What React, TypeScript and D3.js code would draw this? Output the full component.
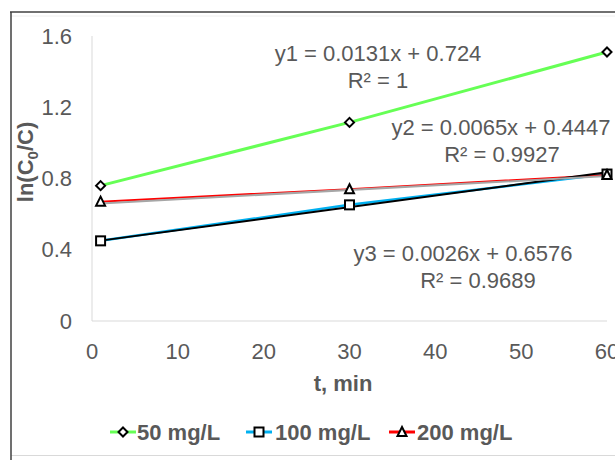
import React from "react";
import * as d3 from "d3";

const times = [1, 30, 60];
const series50 = [0.76, 1.115, 1.51];
const series100 = [0.45, 0.652, 0.825];
const series200 = [0.67, 0.74, 0.82];
const seriesNames = ["50 mg/L", "100 mg/L", "200 mg/L"];
const xTicks = [0, 10, 20, 30, 40, 50, 60];
const yTicks = [0, 0.4, 0.8, 1.2, 1.6];
// trendline coefficients (slope, intercept) for 100 and 200 mg/L
const trend100 = [0.0065, 0.4447];
const trend200 = [0.0026, 0.6576];
const eq1 = ["y1 = 0.0131x + 0.724", "R² = 1"];
const eq2 = ["y2 = 0.0065x + 0.4447", "R² = 0.9927"];
const eq3 = ["y3 = 0.0026x + 0.6576", "R² = 0.9689"];

const W = 615;
const H = 460;
const FONT = "'Liberation Sans', Arial, sans-serif";
const TXT = "#595959";

export default function App() {
  const x = d3.scaleLinear().domain([0, 60]).range([92, 607]);
  const y = d3.scaleLinear().domain([0, 1.6]).range([321, 36]);
  const line = d3
    .line<[number, number]>()
    .x((d) => x(d[0]))
    .y((d) => y(d[1]));
  const pts = (vals: number[]) => times.map((t, i) => [t, vals[i]] as [number, number]);
  const trendPts = (c: number[]) =>
    [times[0], times[times.length - 1]].map((t) => [t, c[0] * t + c[1]] as [number, number]);

  const diamond = (cx: number, cy: number, key: string) => (
    <path
      key={key}
      d={`M${cx},${cy - 4.5}L${cx + 4.5},${cy}L${cx},${cy + 4.5}L${cx - 4.5},${cy}Z`}
      fill="#fff"
      stroke="#000"
      strokeWidth={2}
    />
  );
  const square = (cx: number, cy: number, key: string) => (
    <rect key={key} x={cx - 4.5} y={cy - 4.5} width={9} height={9} fill="#fff" stroke="#000" strokeWidth={2} />
  );
  const triangle = (cx: number, cy: number, key: string) => (
    <path
      key={key}
      d={`M${cx},${cy - 5}L${cx + 4.5},${cy + 4}L${cx - 4.5},${cy + 4}Z`}
      fill="#fff"
      stroke="#000"
      strokeWidth={2}
    />
  );

  const legendItems = [
    { name: seriesNames[0], color: "#66FF55", lx: 110, tx: 137, marker: diamond },
    { name: seriesNames[1], color: "#00B0F0", lx: 246, tx: 275, marker: square },
    { name: seriesNames[2], color: "#FF0000", lx: 389, tx: 417, marker: triangle },
  ];

  return (
    <div style={{ position: "absolute", left: 0, top: 0 }}>
      <svg width={W} height={H} style={{ display: "block", background: "#fff" }} fontFamily={FONT}>
        <rect x={0} y={0} width={W} height={H} fill="#fff" />
        {/* frame */}
        <line x1={11} y1={16} x2={W} y2={16} stroke="#eeeeee" strokeWidth={1} />
        <line x1={11} y1={455.5} x2={W} y2={455.5} stroke="#d9d9d9" strokeWidth={1} />
        <line x1={10} y1={12} x2={W} y2={12} stroke="#404040" strokeWidth={1.5} />
        <line x1={11} y1={12} x2={11} y2={H} stroke="#404040" strokeWidth={1.5} />

        {/* plot axes lines */}
        <line x1={92} y1={36} x2={92} y2={321} stroke="#d9d9d9" strokeWidth={1} />
        <line x1={92} y1={321} x2={607} y2={321} stroke="#d9d9d9" strokeWidth={1} />

        {/* y ticks */}
        {yTicks.map((t) => (
          <text key={"y" + t} x={72} y={y(t)} dy="0.35em" textAnchor="end" fontSize={22} fill={TXT}>
            {t === 0 ? "0" : t.toFixed(1)}
          </text>
        ))}
        {/* x ticks */}
        {xTicks.map((t) => (
          <text key={"x" + t} x={x(t)} y={351} dy="0.35em" textAnchor="middle" fontSize={22} fill={TXT}>
            {t}
          </text>
        ))}

        {/* axis titles */}
        <text
          transform="translate(33,162) rotate(-90)"
          textAnchor="middle"
          fontSize={22}
          fontWeight="bold"
          fill={TXT}
        >
          ln(C
          <tspan fontSize={15} dy={5}>0</tspan>
          <tspan dy={-5}>/C)</tspan>
        </text>
        <text x={343} y={383} dy="0.35em" textAnchor="middle" fontSize={22} fontWeight="bold" fill={TXT}>
          t, min
        </text>

        {/* series lines */}
        <path d={line(pts(series50)) || ""} fill="none" stroke="#66FF55" strokeWidth={3} />
        <path d={line(pts(series100)) || ""} fill="none" stroke="#00B0F0" strokeWidth={2.5} />
        <path d={line(pts(series200)) || ""} fill="none" stroke="#FF0000" strokeWidth={2} />
        {/* trendlines */}
        <path d={line(trendPts(trend100)) || ""} fill="none" stroke="#000000" strokeWidth={2} />
        <path d={line(trendPts(trend200)) || ""} fill="none" stroke="#a6a6a6" strokeWidth={2} />

        {/* markers */}
        {times.map((t, i) => diamond(x(t), y(series50[i]), "d" + i))}
        {times.map((t, i) => square(x(t), y(series100[i]), "s" + i))}
        {times.map((t, i) => triangle(x(t), y(series200[i]), "t" + i))}

        {/* equations */}
        <text x={378} y={53} dy="0.35em" textAnchor="middle" fontSize={22} fill={TXT}>{eq1[0]}</text>
        <text x={378} y={80} dy="0.35em" textAnchor="middle" fontSize={22} fill={TXT}>{eq1[1]}</text>
        <text x={501} y={127} dy="0.35em" textAnchor="middle" fontSize={22} fill={TXT}>{eq2[0]}</text>
        <text x={502} y={154} dy="0.35em" textAnchor="middle" fontSize={22} fill={TXT}>{eq2[1]}</text>
        <text x={463} y={253} dy="0.35em" textAnchor="middle" fontSize={22} fill={TXT}>{eq3[0]}</text>
        <text x={478} y={280} dy="0.35em" textAnchor="middle" fontSize={22} fill={TXT}>{eq3[1]}</text>

        {/* legend */}
        {legendItems.map((it, i) => (
          <g key={"lg" + i}>
            <line x1={it.lx} y1={432} x2={it.lx + 26} y2={432} stroke={it.color} strokeWidth={3} />
            {it.marker(it.lx + 13, 432, "lm" + i)}
            <text x={it.tx} y={432} dy="0.35em" fontSize={22} fontWeight="bold" fill={TXT}>
              {it.name}
            </text>
          </g>
        ))}
      </svg>
    </div>
  );
}
